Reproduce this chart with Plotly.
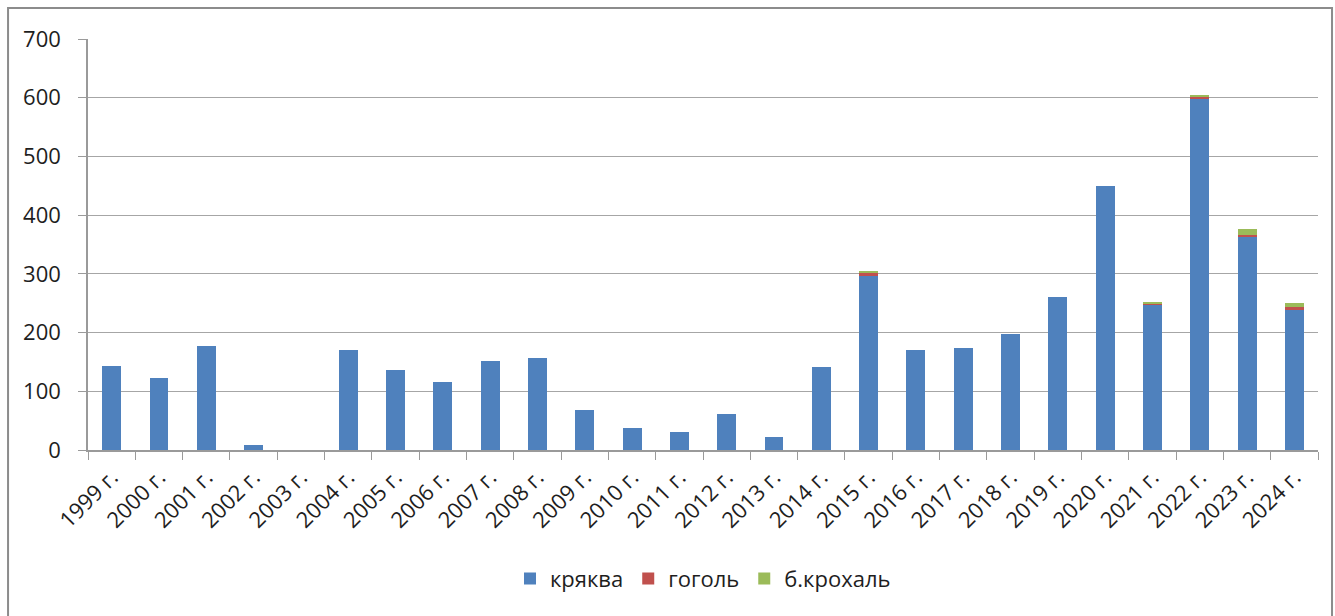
import plotly.graph_objects as go

years = [f"{y} г." for y in range(1999, 2025)]
kryakva = [143, 122, 177, 8, 0, 170, 136, 115, 151, 156, 68, 37, 31, 61, 22,
           141, 297, 170, 173, 197, 260, 449, 247, 597, 364, 238]
gogol = [0, 0, 0, 0, 0, 0, 0, 0, 0, 0, 0, 0, 0, 0, 0,
         0, 4, 0, 0, 0, 0, 0, 3, 5, 2, 6]
krohal = [0, 0, 0, 0, 0, 0, 0, 0, 0, 0, 0, 0, 0, 0, 0,
          0, 4, 0, 0, 0, 0, 0, 2, 2, 10, 6]

series = [
    ("кряква", kryakva, "#4F81BD"),
    ("гоголь", gogol, "#C0504D"),
    ("б.крохаль", krohal, "#9BBB59"),
]

font_family = "'Open Sans', 'DejaVu Sans', sans-serif"

fig = go.Figure()
for name, vals, color in series:
    fig.add_trace(go.Bar(x=years, y=vals, name=name, marker_color=color,
                         marker_line_width=0))

fig.update_layout(
    width=1335, height=616,
    barmode="stack", bargap=0.6,
    paper_bgcolor="white", plot_bgcolor="white",
    margin=dict(l=88, r=17, t=39, b=166),
    font=dict(family=font_family, size=22, color="#1e1e1e"),
    legend=dict(orientation="h", x=0.5, xanchor="center", y=-0.262, yanchor="top",
                font=dict(size=22), itemwidth=30, traceorder="normal"),
    showlegend=True,
)
fig.update_xaxes(
    type="category", tickangle=-45, tickson="boundaries",
    ticks="outside", ticklen=8, tickcolor="#9a9a9a",
    showline=True, linecolor="#9a9a9a", linewidth=1.5,
    showgrid=False, tickfont=dict(size=22), ticklabelstandoff=4,
)
fig.update_yaxes(
    range=[0, 700], dtick=100, ticks="outside", ticklen=8, tickcolor="#9a9a9a",
    showline=True, linecolor="#9a9a9a", linewidth=1.5,
    showgrid=True, gridcolor="#a6a6a6", gridwidth=1.2,
    zeroline=False, ticklabelstandoff=13, tickfont=dict(size=22),
)
# outer chart frame
fig.add_shape(type="rect", xref="paper", yref="paper",
              x0=-0.065, x1=1.0114, y0=-0.42, y1=1.0754,
              line=dict(color="#8c8c8c", width=2), fillcolor="rgba(0,0,0,0)",
              layer="below")

fig.write_html("out.html")
